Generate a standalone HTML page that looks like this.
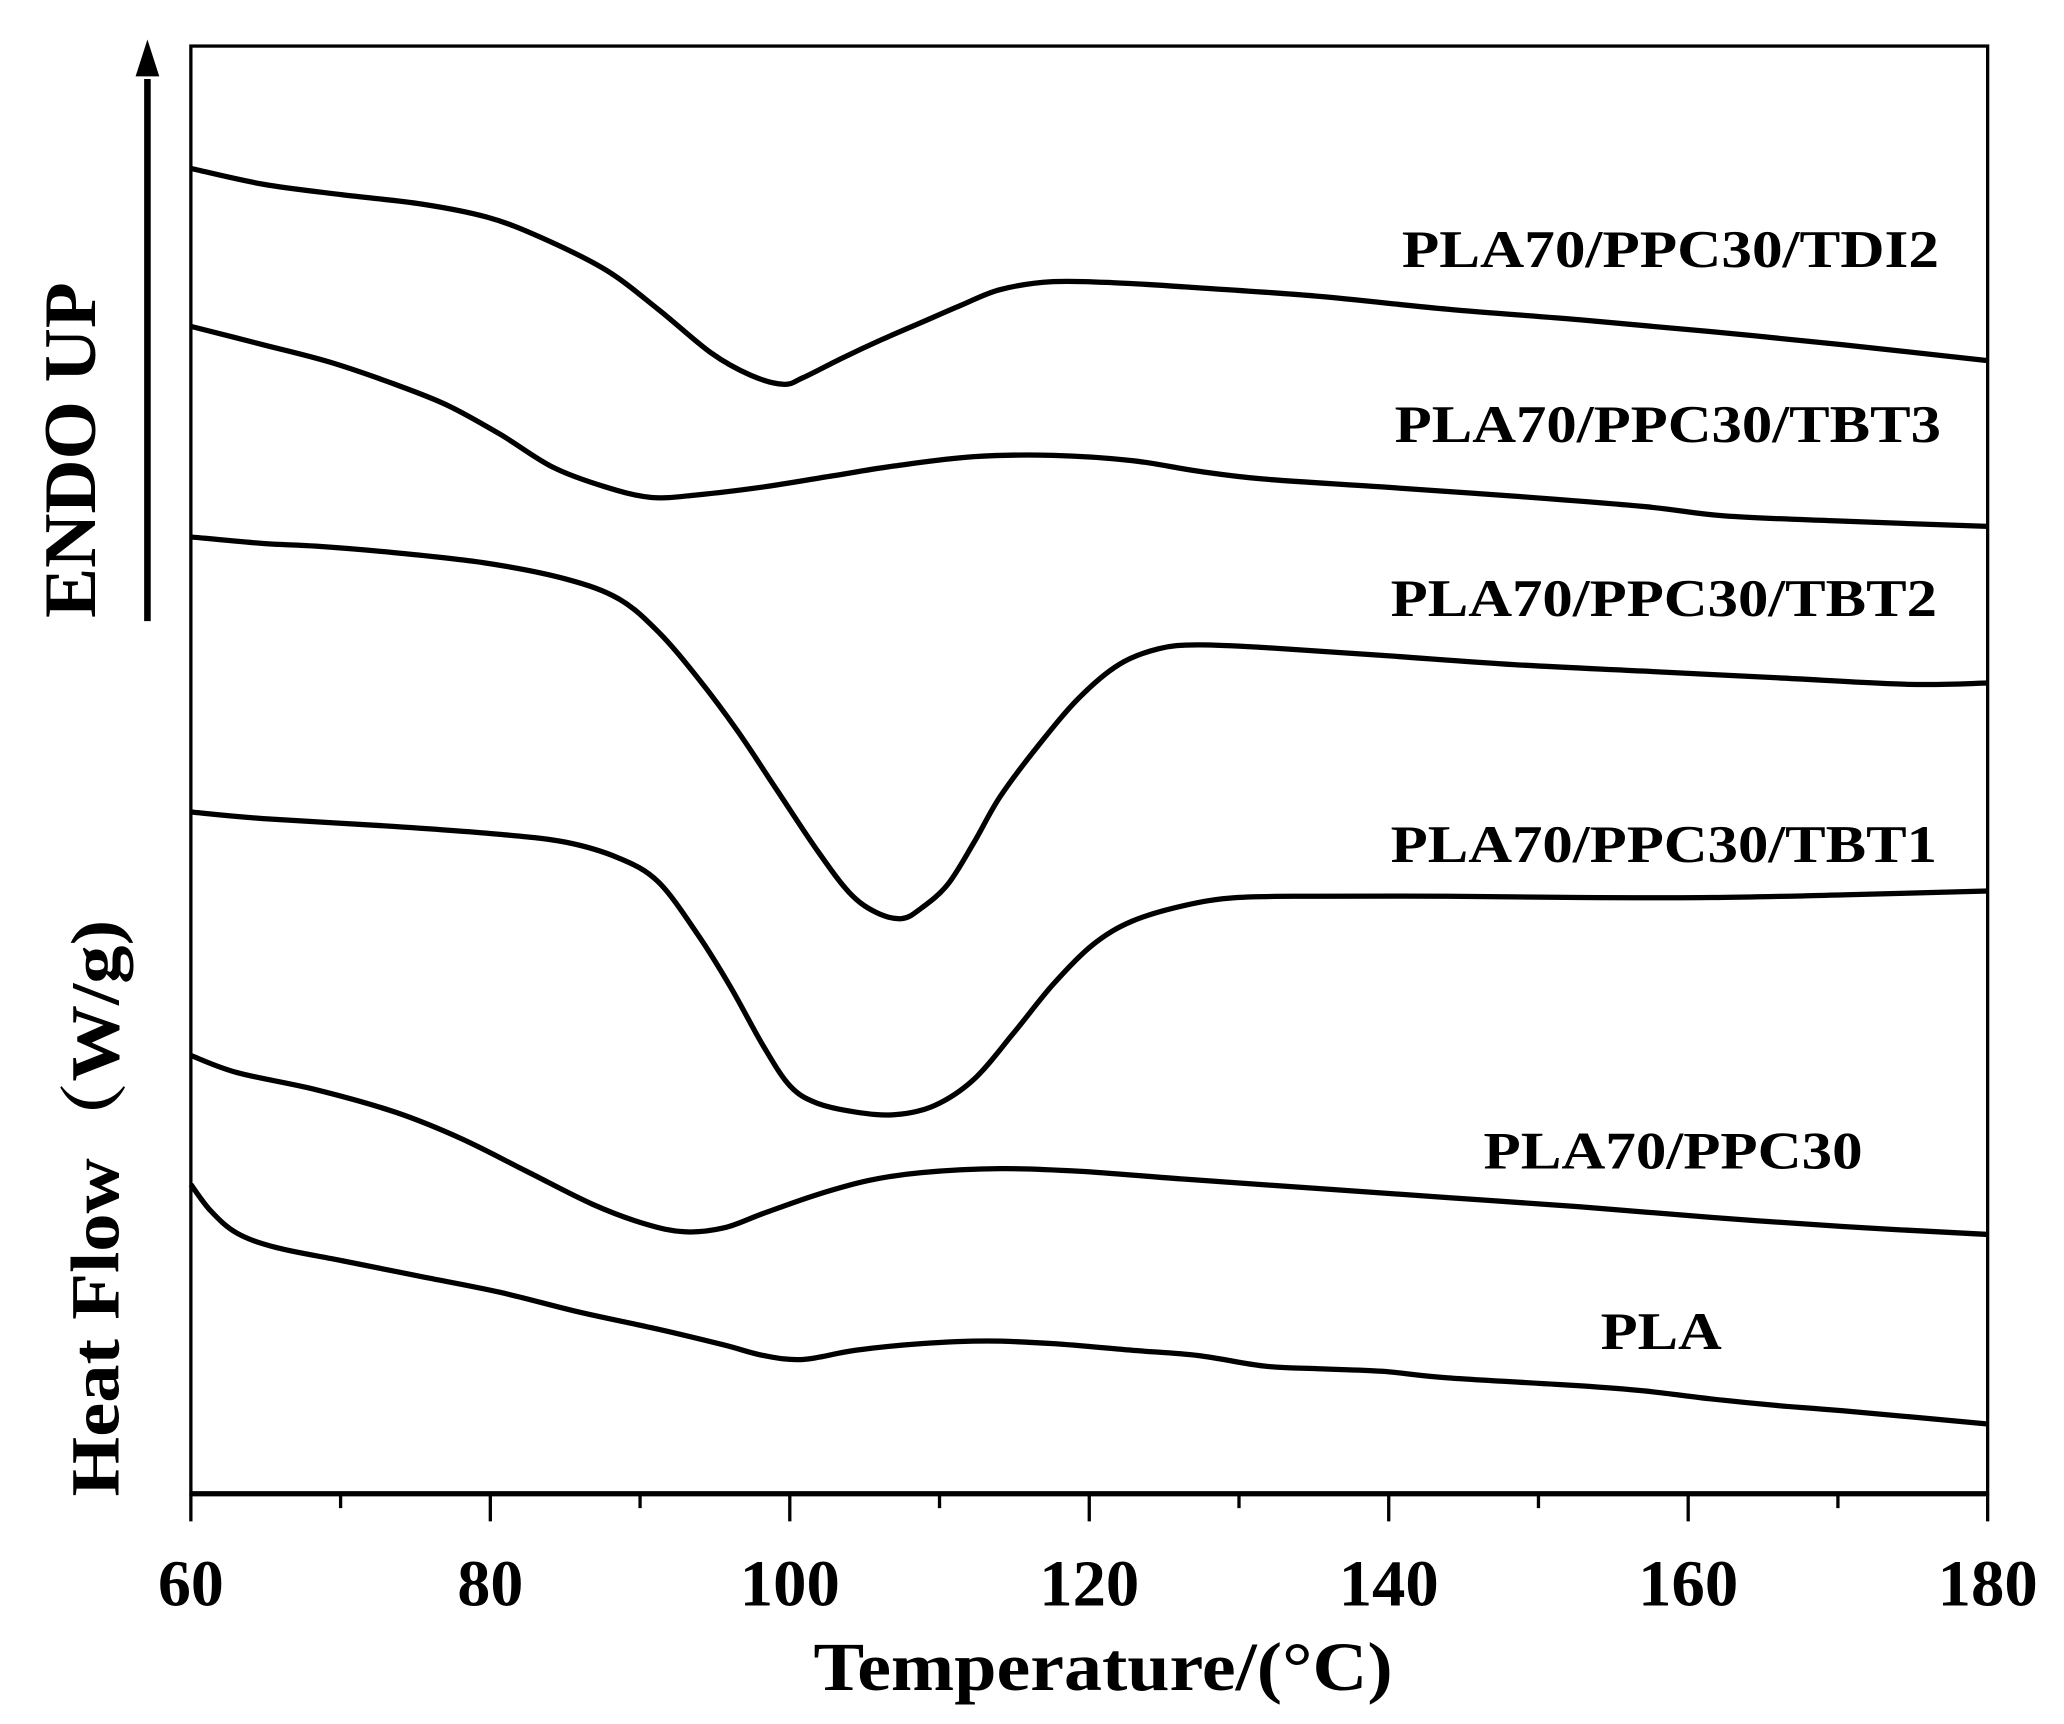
<!DOCTYPE html>
<html><head><meta charset="utf-8"><style>html,body{margin:0;padding:0;background:#fff}svg{display:block}</style></head>
<body>
<svg id="s" width="2064" height="1724" viewBox="0 0 1568 1310" preserveAspectRatio="none" xmlns="http://www.w3.org/2000/svg" font-family="'Liberation Serif', serif" font-weight="bold">
<rect width="1568" height="1310" fill="#fff"/>
<g fill="none" stroke="#000">
<rect x="145" y="35" width="1365" height="1100" stroke-width="2.5"/>
<line x1="145" y1="1135" x2="1510" y2="1135" stroke-width="4"/>
<g stroke-width="2.5">
<path d="M145 1135v21M372.5 1135v21M600 1135v21M827.5 1135v21M1055 1135v21M1282.5 1135v21M1510 1135v21"/>
<path d="M258.75 1135v11M486.25 1135v11M713.75 1135v11M941.25 1135v11M1168.75 1135v11M1396.25 1135v11"/>
</g>
<line x1="112" y1="60" x2="112" y2="472" stroke-width="5"/>
<g stroke-width="4" stroke-linejoin="round" class="c">
<polyline points="145,128 200,140 260,148 320,155 370,165 410,180 460,205 500,235 540,268 570,285 595,292 610,287 640,272 670,258 700,245 730,232 760,220 800,214 850,215 900,218 1000,225 1100,235 1200,243 1300,252 1400,262 1510,274"/>
<polyline points="145,248 200,262 250,275 300,292 340,308 380,330 420,355 460,370 495,378 530,376 580,370 630,362 680,354 740,347 800,346 860,350 910,358 960,364 1050,370 1150,377 1250,385 1310,392 1400,396 1510,400"/>
<polyline points="145,408 200,413 240,415 300,420 370,428 430,440 470,455 500,480 530,515 560,555 590,600 620,645 645,678 665,693 685,698 700,690 720,672 740,640 760,605 790,565 820,530 850,505 880,493 910,490 960,492 1050,498 1150,505 1250,510 1350,515 1450,520 1510,519"/>
<polyline points="145,617 200,622 300,628 380,634 430,640 470,652 500,670 530,710 555,750 580,795 600,825 620,838 650,845 680,847 710,840 740,820 770,785 800,748 830,718 860,700 900,688 940,682 1000,681 1100,681 1200,682 1300,682 1400,680 1510,677"/>
<polyline points="145,802 180,815 240,828 300,845 350,865 400,890 450,915 490,930 520,936 550,933 580,922 620,908 660,897 700,891 760,888 820,890 900,896 1000,903 1100,910 1200,917 1300,925 1400,932 1510,938"/>
<polyline points="145,900 160,920 180,937 210,948 260,958 320,970 380,982 440,997 500,1010 550,1022 580,1030 610,1033 650,1026 700,1021 750,1019 800,1021 860,1026 910,1030 960,1038 1000,1040 1050,1042 1100,1047 1200,1053 1250,1057 1300,1063 1350,1068 1400,1072 1510,1082"/>
</g>
</g>
<polygon points="112,30 103,58 121,58" fill="#000"/>
<g font-size="50" text-anchor="middle">
<text x="145" y="1220" textLength="50" lengthAdjust="spacingAndGlyphs">60</text><text x="372.5" y="1220" textLength="50" lengthAdjust="spacingAndGlyphs">80</text><text x="600" y="1220" textLength="76" lengthAdjust="spacingAndGlyphs">100</text><text x="827.5" y="1220" textLength="76" lengthAdjust="spacingAndGlyphs">120</text><text x="1055" y="1220" textLength="76" lengthAdjust="spacingAndGlyphs">140</text><text x="1282.5" y="1220" textLength="76" lengthAdjust="spacingAndGlyphs">160</text><text x="1510" y="1220" textLength="76" lengthAdjust="spacingAndGlyphs">180</text>
</g>
<text x="838" y="1284" font-size="52" text-anchor="middle" textLength="440" lengthAdjust="spacingAndGlyphs">Temperature/(°C)</text>
<g font-size="40" text-anchor="middle">
<text x="1269" y="203" textLength="408" lengthAdjust="spacingAndGlyphs">PLA70/PPC30/TDI2</text>
<text x="1267" y="336" textLength="415" lengthAdjust="spacingAndGlyphs">PLA70/PPC30/TBT3</text>
<text x="1264" y="468" textLength="415" lengthAdjust="spacingAndGlyphs">PLA70/PPC30/TBT2</text>
<text x="1264" y="655" textLength="415" lengthAdjust="spacingAndGlyphs">PLA70/PPC30/TBT1</text>
<text x="1271" y="888" textLength="288" lengthAdjust="spacingAndGlyphs">PLA70/PPC30</text>
<text x="1262" y="1025" textLength="92" lengthAdjust="spacingAndGlyphs">PLA</text>
</g>
<text transform="translate(72,342) rotate(-90)" font-size="56" text-anchor="middle" textLength="255" lengthAdjust="spacingAndGlyphs">ENDO UP</text>
<text transform="translate(90,918) rotate(-90)" font-size="52" text-anchor="middle" font-family="'Liberation Serif','Noto Serif CJK SC',serif" textLength="438" lengthAdjust="spacingAndGlyphs">Heat Flow（W/g)</text>
</svg>
<script>
document.querySelectorAll('.c polyline').forEach(function(pl){
var p=pl.getAttribute('points').trim().split(/\s+/).map(function(s){return s.split(',').map(Number);});
var d='M'+p[0][0]+' '+p[0][1];
for(var i=0;i<p.length-1;i++){var a=p[Math.max(i-1,0)],b=p[i],c=p[i+1],e=p[Math.min(i+2,p.length-1)];
d+=' C'+(b[0]+(c[0]-a[0])/6)+' '+(b[1]+(c[1]-a[1])/6)+' '+(c[0]-(e[0]-b[0])/6)+' '+(c[1]-(e[1]-b[1])/6)+' '+c[0]+' '+c[1];}
var path=document.createElementNS('http://www.w3.org/2000/svg','path');path.setAttribute('d',d);pl.parentNode.replaceChild(path,pl);});
</script>
</body></html>
